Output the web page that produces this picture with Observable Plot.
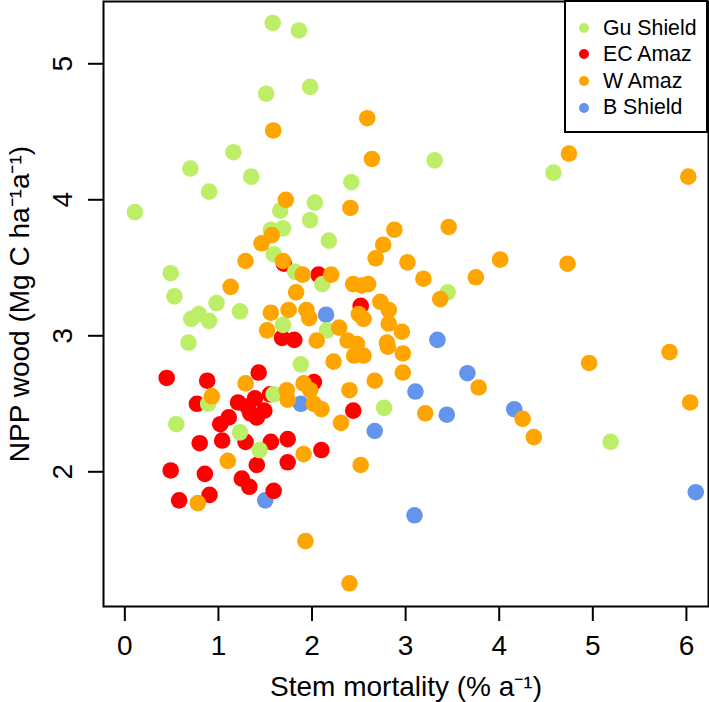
<!DOCTYPE html>
<html>
<head>
<meta charset="utf-8">
<script src="https://cdn.jsdelivr.net/npm/d3@7"></script>
<script src="https://cdn.jsdelivr.net/npm/@observablehq/plot@0.6"></script>
<style>
  html, body { margin: 0; padding: 0; background: #fff; }
  #wrap { position: relative; width: 709px; height: 702px; font-family: "Liberation Sans", Arial, sans-serif; }
  #legend { position: absolute; left: 564px; top: 0px; width: 144px; height: 133px; box-sizing: border-box;
            border: 2px solid #000; background: #fff; }
  .item { position: absolute; left: 0; height: 26px; display: flex; align-items: center; font-size: 21.3px; color: #000; white-space: nowrap; }
  .sw { display: inline-block; width: 10px; height: 10px; border-radius: 50%; margin-left: 13px; margin-right: 14px; }
</style>
</head>
<body>
<div id="wrap"><div id="legend"></div></div>
<script>
// Legend order and colours
const categories = ["Gu Shield", "EC Amaz", "W Amaz", "B Shield"];
const colors = ["#BCEE68", "#FF0000", "#FFA500", "#6495ED"];

// Axis ticks
const xTicks = [0, 1, 2, 3, 4, 5, 6];
const yTicks = [2, 3, 4, 5];
const xTitle = "Stem mortality (% a\u207B\u00B9)";
const yTitle = "NPP wood (Mg C ha\u207B\u00B9a\u207B\u00B9)";

// Data: [stem mortality, NPP wood]
const bShield = [[2.15,3.155],[3.34,2.97],[1.88,2.50],[1.50,1.79],[3.105,2.59],[3.44,2.42],[2.67,2.30],[3.66,2.725],[4.16,2.46],[3.095,1.68],[6.10,1.85]];
const ecAmaz = [[0.447,2.69],[0.88,2.67],[1.43,2.73],[0.77,2.50],[1.21,2.51],[1.39,2.54],[1.55,2.57],[1.49,2.45],[1.34,2.43],[1.31,2.48],[1.41,2.40],[1.11,2.40],[1.02,2.35],[0.80,2.21],[1.04,2.23],[1.29,2.22],[1.56,2.22],[1.74,2.24],[2.10,2.16],[0.49,2.01],[0.855,1.985],[1.41,2.05],[1.74,2.07],[1.25,1.95],[1.33,1.89],[0.905,1.83],[1.59,1.86],[0.58,1.79],[2.02,2.66],[2.44,2.45],[1.70,3.53],[2.07,3.45],[2.52,3.22],[1.68,2.985],[1.81,2.97]];
const guShield = [[1.58,5.30],[1.86,5.245],[1.98,4.83],[1.51,4.78],[1.16,4.35],[0.70,4.23],[1.35,4.17],[0.90,4.06],[0.107,3.91],[2.03,3.98],[1.66,3.92],[2.42,4.13],[1.98,3.85],[1.69,3.79],[1.56,3.78],[2.18,3.70],[1.59,3.60],[0.49,3.46],[0.53,3.29],[0.98,3.24],[1.23,3.18],[0.71,3.125],[0.79,3.16],[0.90,3.11],[1.82,3.47],[2.11,3.38],[1.69,3.08],[2.16,3.04],[0.68,2.95],[1.88,2.79],[0.89,2.50],[1.59,2.57],[1.23,2.29],[1.44,2.16],[0.55,2.35],[2.77,2.47],[3.45,3.32],[3.31,4.29],[4.58,4.20],[5.19,2.22]];
const wAmaz = [[1.585,4.51],[1.72,4.00],[2.41,3.94],[1.57,3.74],[1.46,3.68],[1.29,3.55],[1.69,3.55],[1.90,3.45],[2.205,3.45],[1.13,3.36],[1.83,3.32],[1.56,3.17],[1.75,3.19],[1.94,3.19],[1.97,3.13],[2.50,3.16],[2.55,3.125],[1.52,3.04],[2.29,3.06],[2.05,2.965],[2.38,2.965],[2.48,2.94],[2.59,4.60],[2.64,4.30],[4.745,4.34],[6.02,4.17],[3.46,3.80],[2.88,3.78],[2.76,3.67],[2.68,3.57],[3.02,3.54],[4.01,3.56],[4.73,3.53],[3.19,3.42],[3.75,3.43],[3.37,3.27],[2.44,3.38],[2.53,3.37],[2.60,3.38],[2.73,3.25],[2.82,3.19],[2.82,3.09],[2.96,3.03],[2.80,2.95],[2.81,2.92],[2.45,2.855],[2.55,2.855],[2.97,2.87],[2.23,2.81],[2.97,2.73],[2.67,2.67],[2.40,2.60],[1.73,2.60],[1.74,2.53],[1.91,2.65],[1.98,2.60],[2.02,2.50],[2.10,2.46],[2.31,2.36],[3.21,2.43],[2.52,2.05],[1.29,2.65],[0.93,2.555],[1.10,2.08],[1.91,2.13],[0.78,1.77],[1.93,1.49],[2.40,1.18],[3.78,2.62],[4.25,2.39],[4.37,2.255],[4.96,2.80],[5.82,2.88],[6.04,2.51]];

// Draw order (alphabetical by region, as in the source)
const groups = [["B Shield", bShield], ["EC Amaz", ecAmaz], ["Gu Shield", guShield], ["W Amaz", wAmaz]];
const data = groups.flatMap(([g, pts]) => pts.map(([x, y]) => ({region: g, x, y})));

const font = "Liberation Sans, Arial, sans-serif";
const fs = 28;

const chart = Plot.plot({
  width: 709,
  height: 702,
  marginLeft: 103,
  marginRight: 1,
  marginTop: 1,
  marginBottom: 96,
  style: {fontFamily: font, background: "#fff", color: "#000"},
  x: {domain: [-0.228, 6.236]},
  y: {domain: [1.0096, 5.458]},
  color: {domain: categories, range: colors},
  marks: [
    Plot.dot(data, {x: "x", y: "y", r: 8.3, fill: "region", stroke: null}),
    Plot.frame({stroke: "#000", strokeWidth: 2}),
    Plot.axisX({ticks: xTicks, tickSize: 15, tickPadding: 14, fontSize: fs, tickFormat: d => String(d), label: null, strokeWidth: 2}),
    Plot.axisY({ticks: yTicks, tickSize: 15, tickFormat: () => "", label: null, strokeWidth: 2}),
    Plot.text(yTicks, {y: d => d, text: d => String(d), frameAnchor: "left", dx: -40, rotate: -90, fontSize: fs, lineAnchor: "middle", textAnchor: "middle"}),
    Plot.text([xTitle], {text: d => d, frameAnchor: "bottom", dy: 81, fontSize: fs, lineAnchor: "middle", textAnchor: "middle"}),
    Plot.text([yTitle], {text: d => d, frameAnchor: "left", dx: -83, rotate: -90, fontSize: fs, lineAnchor: "middle", textAnchor: "middle"})
  ]
});
document.getElementById("wrap").prepend(chart);

// Legend
const legend = document.getElementById("legend");
const rowCenters = [27, 53.3, 80, 106.7];
categories.forEach((c, i) => {
  const div = document.createElement("div");
  div.className = "item";
  div.style.top = (rowCenters[i] - 13 - 1) + "px";
  const sw = document.createElement("span");
  sw.className = "sw";
  sw.style.background = colors[i];
  div.appendChild(sw);
  div.appendChild(document.createTextNode(c));
  legend.appendChild(div);
});
</script>
</body>
</html>
